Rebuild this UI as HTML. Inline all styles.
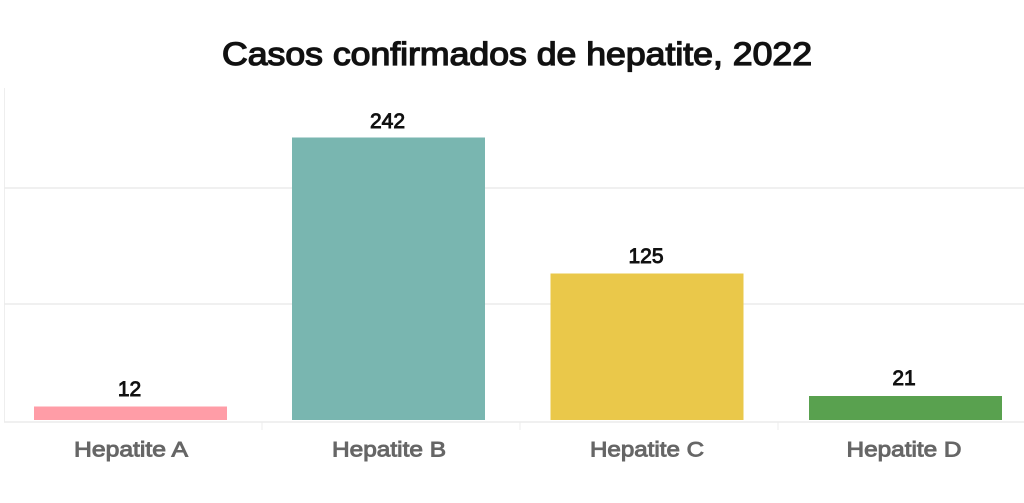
<!DOCTYPE html>
<html>
<head>
<meta charset="utf-8">
<style>
html,body{margin:0;padding:0;background:#fff;}
svg{display:block;}
text{font-family:"Liberation Sans","DejaVu Sans",sans-serif;}
</style>
</head>
<body>
<svg width="1024" height="503" viewBox="0 0 1024 503" xmlns="http://www.w3.org/2000/svg">
  <rect width="1024" height="503" fill="#ffffff"/>
  <!-- title -->
  <text x="517" y="65" text-anchor="middle" font-size="32" font-weight="normal" fill="#111" stroke="#111" stroke-width="1.3" textLength="590" lengthAdjust="spacingAndGlyphs">Casos confirmados de hepatite,  2022</text>
  <!-- axis & gridlines -->
  <line x1="4.5" y1="88" x2="4.5" y2="422" stroke="#eeeeee" stroke-width="1"/>
  <line x1="4" y1="188" x2="1024" y2="188" stroke="#ececec" stroke-width="1.5"/>
  <line x1="4" y1="304" x2="1024" y2="304" stroke="#ececec" stroke-width="1.5"/>
  <line x1="4" y1="422" x2="1024" y2="422" stroke="#ececec" stroke-width="1.5"/>
  <line x1="262" y1="422" x2="262" y2="430" stroke="#ececec" stroke-width="1"/>
  <line x1="520" y1="422" x2="520" y2="430" stroke="#ececec" stroke-width="1"/>
  <line x1="778" y1="422" x2="778" y2="430" stroke="#ececec" stroke-width="1"/>
  <!-- bars -->
  <rect x="34" y="406.5" width="193" height="13.5" fill="#ff9da7"/>
  <rect x="292" y="137.5" width="193" height="282.5" fill="#79b6b0"/>
  <rect x="550.5" y="273.5" width="193" height="146.5" fill="#eac84a"/>
  <rect x="809" y="396" width="193" height="24" fill="#59a14f"/>
  <!-- value labels -->
  <g font-size="21" fill="#111" stroke="#111" stroke-width="0.9" text-anchor="middle">
    <text x="129.5" y="396">12</text>
    <text x="387.5" y="128">242</text>
    <text x="646" y="263">125</text>
    <text x="904" y="385">21</text>
  </g>
  <!-- category labels -->
  <g font-size="21" fill="#666" stroke="#666" stroke-width="0.9" text-anchor="middle">
    <text x="131" y="456.5" textLength="114" lengthAdjust="spacingAndGlyphs">Hepatite A</text>
    <text x="389" y="456.5" textLength="114" lengthAdjust="spacingAndGlyphs">Hepatite B</text>
    <text x="647" y="456.5" textLength="114" lengthAdjust="spacingAndGlyphs">Hepatite C</text>
    <text x="904" y="456.5" textLength="115" lengthAdjust="spacingAndGlyphs">Hepatite D</text>
  </g>
</svg>
</body>
</html>
